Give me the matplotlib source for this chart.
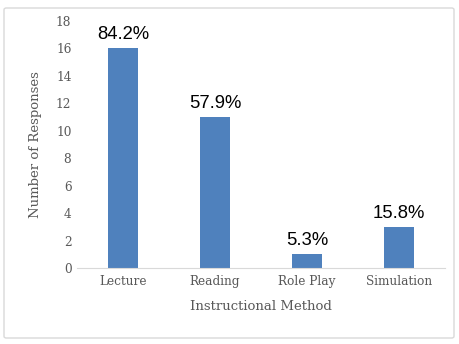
import matplotlib.pyplot as plt
from matplotlib.patches import FancyBboxPatch

# Data
methods = ['Lecture', 'Reading', 'Role Play', 'Simulation']
responses = [16, 11, 1, 3]
percent_labels = ['84.2%', '57.9%', '5.3%', '15.8%']
yticks = list(range(0, 19, 2))

fig = plt.figure(figsize=(4.59, 3.44), dpi=100)
ax = fig.add_axes([77 / 459, 1 - 268 / 344, 368 / 459, 247.5 / 344])

# Chart border
border = FancyBboxPatch((4 / 459, 6 / 344), 450 / 459, 330 / 344,
                        boxstyle='round,pad=0,rounding_size=0.005',
                        transform=fig.transFigure, facecolor='none',
                        edgecolor='#D9D9D9', linewidth=1.0)
fig.patches.append(border)

x = range(len(methods))
bars = ax.bar(x, responses, width=0.32, color='#4F81BD')

for rect, lab in zip(bars, percent_labels):
    ax.text(rect.get_x() + rect.get_width() / 2, rect.get_height() + 0.35, lab,
            ha='center', va='bottom', fontsize=13.3, color='black',
            family='Liberation Sans')

ax.set_xlim(-0.5, 3.5)
ax.set_ylim(0, 18)
ax.set_yticks(yticks)
ax.set_xticks(list(x))
ax.set_xticklabels(methods)

for s in ['top', 'right', 'left']:
    ax.spines[s].set_visible(False)
ax.spines['bottom'].set_color('#D9D9D9')
ax.tick_params(length=0, labelsize=8.7, labelcolor='#595959')
ax.tick_params(axis='y', pad=4)
ax.tick_params(axis='x', pad=5)
for t in ax.get_xticklabels() + ax.get_yticklabels():
    t.set_family('DejaVu Serif')

ax.set_xlabel('Instructional Method', fontsize=9.5, color='#595959',
              family='DejaVu Serif', labelpad=9)
ax.set_ylabel('Number of Responses', fontsize=9.5, color='#595959',
              family='DejaVu Serif', labelpad=10)

fig.savefig('out.png', dpi=100)
